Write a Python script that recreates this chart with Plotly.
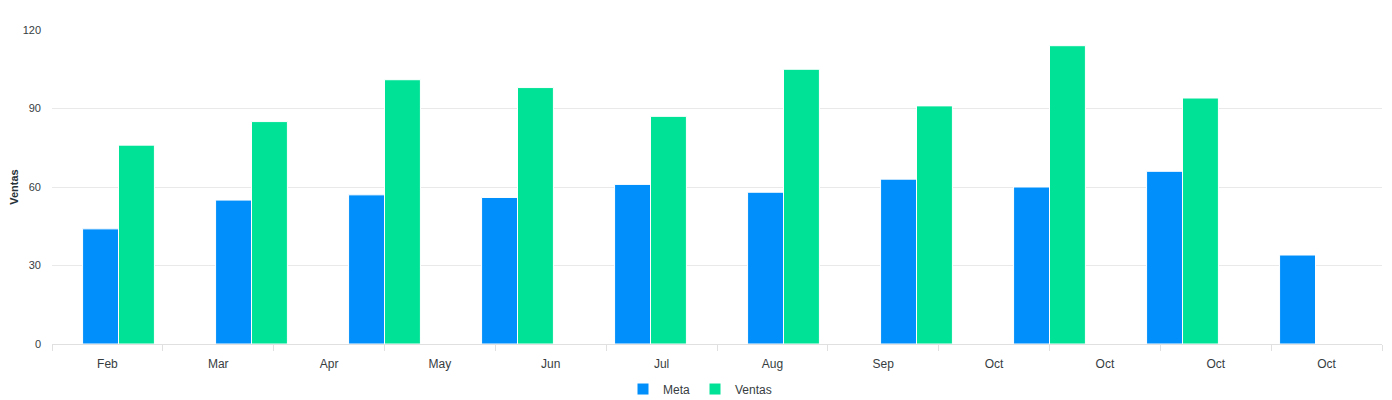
import plotly.graph_objects as go

tick_labels = ["Feb", "Mar", "Apr", "May", "Jun", "Jul", "Aug", "Sep", "Oct", "Oct", "Oct", "Oct"]
meta = [44, 55, 57, 56, 61, 58, 63, 60, 66, 34]
ventas = [76, 85, 101, 98, 87, 105, 91, 114, 94, None]
y_ticks = [0, 30, 60, 90, 120]

n_groups = len(meta)
n_labels = len(tick_labels)
xs = list(range(n_groups))
span = n_groups / n_labels
label_pos = [-0.5 + (i + 0.5) * span for i in range(n_labels)]
minor_pos = [-0.5 + i * span for i in range(n_labels + 1)]

font_family = "Liberation Sans, Arial, sans-serif"

fig = go.Figure()
fig.add_trace(go.Bar(name="Meta", x=xs, y=meta, marker=dict(color="#008FFB", line=dict(color="white", width=1))))
fig.add_trace(go.Bar(name="Ventas", x=xs, y=ventas, marker=dict(color="#00E396", line=dict(color="white", width=1))))

fig.update_layout(
    width=1384, height=392,
    margin=dict(l=44, r=10, t=22, b=56, autoexpand=False),
    paper_bgcolor="white", plot_bgcolor="white",
    barmode="group", bargap=0.46, bargroupgap=0,
    font=dict(family=font_family, size=11, color="#373d3f"),
    legend=dict(orientation="h", x=0.5, xanchor="center", xref="container",
                y=0.028, yanchor="middle", yref="container",
                font=dict(size=12, color="#373d3f"), itemwidth=30, tracegroupgap=0),
    showlegend=True,
)
fig.update_xaxes(
    range=[-0.5, n_groups - 0.5], automargin=False,
    tickmode="array", tickvals=label_pos, ticktext=tick_labels,
    ticks="", showgrid=False, zeroline=False,
    showline=True, linecolor="#e0e0e0", linewidth=1,
    ticklabelstandoff=9,
    tickfont=dict(size=12, color="#373d3f"),
    minor=dict(tickmode="array", tickvals=minor_pos, ticks="outside", ticklen=6, tickcolor="#e0e0e0", showgrid=False),
)
fig.update_yaxes(
    range=[0, 120], tickmode="array", tickvals=y_ticks, automargin=False,
    showgrid=True, gridcolor="#e9e9e9", gridwidth=1,
    zeroline=False, showline=False, ticks="",
    ticklabelstandoff=10,
    tickfont=dict(size=11, color="#373d3f"),
    title=dict(text="<b>Ventas</b>", font=dict(size=11, color="#263238"), standoff=5),
)
fig.write_html("out.html")
